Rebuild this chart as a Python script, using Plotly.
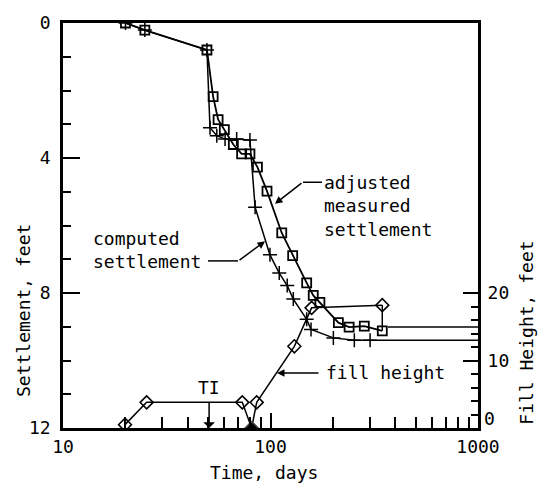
import math
import plotly.graph_objects as go

# ---- data ----
meas_t = [20, 24.8, 49.4, 52.9, 55.9, 59.9, 66.2, 72.6, 79.6, 86.5, 96.2, 113.3, 127.9, 149.4, 160.7, 173, 212.4, 239.3, 283.2, 345.7]
meas_s = [0, 0.21, 0.8, 2.18, 2.86, 3.16, 3.6, 3.88, 3.88, 4.27, 4.98, 6.22, 6.89, 7.70, 8.07, 8.28, 8.88, 9.01, 8.98, 9.12]
meas_ext_t = [368, 1000]
meas_ext_s = [9.01, 9.01]

comp_t = [20, 24.8, 49.4, 51.1, 55.1, 60.4, 68.7, 79.6, 84.3, 99.4, 110.2, 120.4, 128.8, 149.4, 156.8, 200.9, 253.5, 302]
comp_s = [0, 0.21, 0.8, 3.1, 3.34, 3.44, 3.44, 3.47, 5.46, 6.87, 7.41, 7.78, 8.18, 8.78, 9.08, 9.33, 9.40, 9.40]
comp_end_t = 1000

fill_t = [19.9, 25.3, 73.1, 81.1, 85.8, 130.3, 157.8, 345.7]
fill_h = [0.5, 3.8, 3.8, 0, 3.8, 12.1, 17.8, 18.2]

ti_t = 50.6

x_ticks = [10, 100, 1000]
x_minor = [20, 30, 40, 50, 60, 70, 80, 90, 200, 300, 400, 500, 600, 700, 800, 900]
y_ticks = [0, 4, 8, 12]
y_minor = [1, 2, 3, 5, 6, 7, 9, 10, 11]
y2_ticks = [10, 20]
y2_minor = [2, 4, 6, 8, 12, 14, 16, 18]
y2_zero_label = "0"

FONT = "DejaVu Sans Mono"
FS = 18
W, H = 538, 487
L, R, T, B = 63, 478, 16, 428


def px(x):
    return (x - L) / (R - L)


def py(y):
    return (B - y) / (B - T)


fig = go.Figure()

# computed settlement
fig.add_trace(go.Scatter(x=comp_t + [comp_end_t], y=comp_s + [comp_s[-1]], mode="lines",
                         line=dict(color="black", width=1.5), hoverinfo="skip"))
fig.add_trace(go.Scatter(x=comp_t, y=comp_s, mode="markers",
                         marker=dict(symbol="cross-thin", size=10, line=dict(color="black", width=1.5))))

# measured settlement
fig.add_trace(go.Scatter(x=meas_t, y=meas_s, mode="lines+markers",
                         line=dict(color="black", width=1.8),
                         marker=dict(symbol="square-open", size=9, color="black", line=dict(width=1.8))))
fig.add_trace(go.Scatter(x=meas_ext_t, y=meas_ext_s, mode="lines",
                         line=dict(color="black", width=1.5)))

# fill height (secondary axis)
fill_sym = ["diamond" if h == 0 else "diamond-open" for h in fill_h]
fig.add_trace(go.Scatter(x=fill_t, y=fill_h, yaxis="y2", mode="lines+markers",
                         line=dict(color="black", width=1.5),
                         marker=dict(symbol=fill_sym, size=10, color="black", line=dict(width=1.5))))
# connector from last fill point down to last measured point
fig.add_trace(go.Scatter(x=[fill_t[-1], fill_t[-1]], y=[fill_h[-1], (12 - meas_s[-1]) * 5],
                         yaxis="y2", mode="lines", line=dict(color="black", width=1.5)))

ann = []
tf = dict(family=FONT, size=FS, color="black")
ann.append(dict(text="adjusted<br>measured<br>settlement", x=px(322), y=py(166), xref="paper", yref="paper",
                xanchor="left", yanchor="top", align="left", showarrow=False, font=tf))
ann.append(dict(text="", x=px(275), y=py(200), xref="paper", yref="paper", showarrow=True,
                ax=28, ay=-22, arrowhead=2, arrowsize=1, arrowwidth=1.5, arrowcolor="black"))
ann.append(dict(text="computed<br>settlement", x=px(91), y=py(223), xref="paper", yref="paper",
                xanchor="left", yanchor="top", align="left", showarrow=False, font=tf))
ann.append(dict(text="", x=px(265), y=py(238), xref="paper", yref="paper", showarrow=True,
                ax=-27, ay=20, arrowhead=2, arrowsize=1, arrowwidth=1.5, arrowcolor="black"))
ann.append(dict(text="fill height", x=px(324), y=py(372), xref="paper", yref="paper",
                xanchor="left", yanchor="middle", showarrow=False, font=tf))
ann.append(dict(text="", x=px(277), y=py(372), xref="paper", yref="paper", showarrow=True,
                ax=43, ay=0, arrowhead=2, arrowsize=1, arrowwidth=1.5, arrowcolor="black"))
ann.append(dict(text="TI", x=math.log10(ti_t), y=py(387), xref="x", yref="paper",
                xanchor="center", yanchor="middle", showarrow=False, font=tf))
ann.append(dict(text="", x=math.log10(ti_t), y=12, xref="x", yref="y", showarrow=True,
                ax=0, ay=-27, arrowhead=1, arrowsize=1.3, arrowwidth=1.5, arrowcolor="black"))
ann.append(dict(text="Time, days", x=px(264), y=py(473), xref="paper", yref="paper",
                xanchor="center", yanchor="middle", showarrow=False, font=tf))
ann.append(dict(text="Settlement, feet", x=px(23), y=py(309), xref="paper", yref="paper", textangle=-90,
                xanchor="center", yanchor="middle", showarrow=False, font=tf))
ann.append(dict(text="Fill Height, feet", x=px(527), y=py(331), xref="paper", yref="paper", textangle=-90,
                xanchor="center", yanchor="middle", showarrow=False, font=tf))
ann.append(dict(text=y2_zero_label, x=px(482), y=py(418), xref="paper", yref="paper",
                xanchor="left", yanchor="middle", showarrow=False, font=tf))

shapes = [
    dict(type="line", xref="paper", yref="paper", x0=px(322), y0=py(178), x1=px(303), y1=py(178),
         line=dict(color="black", width=1.5)),
    dict(type="line", xref="paper", yref="paper", x0=px(208), y0=py(258), x1=px(238), y1=py(258),
         line=dict(color="black", width=1.5)),
]

fig.update_layout(
    width=W, height=H,
    margin=dict(l=L, r=W - R, t=T, b=H - B),
    paper_bgcolor="white", plot_bgcolor="white",
    showlegend=False,
    font=dict(family=FONT, size=FS, color="black"),
    annotations=ann, shapes=shapes,
    xaxis=dict(type="log", range=[1, 3], tickmode="array", tickvals=x_ticks,
               ticktext=[str(v) for v in x_ticks], ticks="inside", ticklen=15, tickwidth=2,
               tickcolor="black", showline=True, linewidth=3, linecolor="black", mirror=True,
               showgrid=False, zeroline=False, ticklabelstandoff=0,
               minor=dict(tickmode="array", tickvals=x_minor, ticks="inside", ticklen=11,
                          tickwidth=1.5, tickcolor="black", showgrid=False)),
    yaxis=dict(range=[12, 0], tickmode="array", tickvals=y_ticks, ticks="inside", ticklen=17,
               tickwidth=2, tickcolor="black", showline=True, linewidth=2.5, linecolor="black",
               mirror=True, showgrid=False, zeroline=False, ticklabelstandoff=6,
               minor=dict(tickmode="array", tickvals=y_minor, ticks="inside", ticklen=8,
                          tickwidth=1.5, tickcolor="black", showgrid=False)),
    yaxis2=dict(overlaying="y", side="right", range=[0, 60], tickmode="array", tickvals=y2_ticks,
                ticks="inside", ticklen=15, tickwidth=2, tickcolor="black", showline=True,
                linewidth=3, linecolor="black", showgrid=False, zeroline=False, ticklabelstandoff=3,
                minor=dict(tickmode="array", tickvals=y2_minor, ticks="inside", ticklen=7,
                           tickwidth=1.5, tickcolor="black", showgrid=False)),
)

fig.write_html("out.html")
